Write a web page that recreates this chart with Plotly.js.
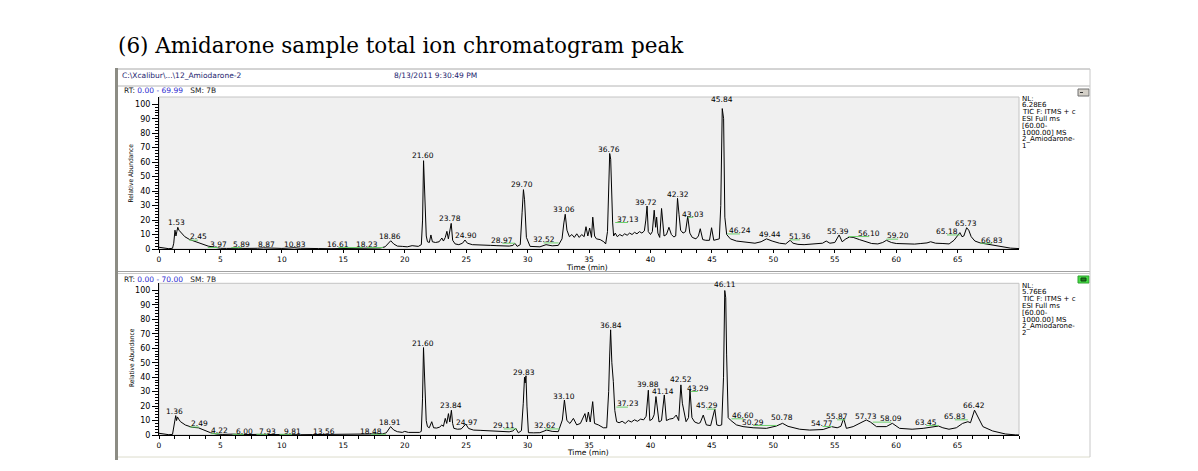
<!DOCTYPE html>
<html>
<head>
<meta charset="utf-8">
<script src="https://cdn.plot.ly/plotly-3.0.1.min.js"></script>
<style>html,body{margin:0;padding:0;background:#fff;}#chart{width:1198px;height:471px;}</style>
</head>
<body>
<div id="chart"></div>
<script>
// ---------- DATA ----------
const chartTitle = "(6) Amidarone sample total ion chromatogram peak";
const headerFile = "C:\\Xcalibur\\...\\12_Amiodarone-2";
const headerDate = "8/13/2011 9:30:49 PM";
const p1Range = "0.00 - 69.99";
const p2Range = "0.00 - 70.00";
const p1Info = ["NL:", "6.28E6", "TIC F: ITMS + c", "ESI Full ms", "[60.00-", "1000.00] MS", "2_Amiodarone-", "1"];
const p2Info = ["NL:", "5.76E6", "TIC F: ITMS + c", "ESI Full ms", "[60.00-", "1000.00] MS", "2_Amiodarone-", "2"];
const yTickVals = [0,10,20,30,40,50,60,70,80,90,100];
const xTickVals = [0,5,10,15,20,25,30,35,40,45,50,55,60,65];

const p1Time = [0,0.2,0.5,0.8,1.1,1.2,1.3,1.38,1.45,1.53,1.62,1.8,2.1,2.5,3.0,3.5,4.0,4.5,5.0,5.5,6.0,6.5,7.0,7.5,8.0,8.5,9.0,9.5,10.0,10.5,11.0,11.5,12.0,13.0,14.0,15.0,16.0,16.6,17.0,17.5,18.0,18.4,18.6,18.86,19.1,19.4,19.8,20.2,20.6,20.8,21.1,21.35,21.45,21.53,21.6,21.68,21.75,21.85,22.0,22.13,22.25,22.5,22.8,23.02,23.15,23.3,23.43,23.55,23.7,23.78,23.9,24.1,24.4,24.7,24.9,25.1,25.5,26.0,26.5,27.0,27.5,28.0,28.5,28.8,28.97,29.15,29.4,29.55,29.66,29.75,29.9,30.2,30.6,31.0,31.5,32.0,32.5,32.8,32.95,33.06,33.2,33.4,33.6,33.8,34.0,34.2,34.4,34.6,34.75,34.9,35.05,35.2,35.3,35.45,35.6,35.9,36.2,36.35,36.5,36.6,36.68,36.76,36.84,36.92,37.0,37.13,37.3,37.5,37.7,37.9,38.1,38.3,38.5,38.7,38.9,39.1,39.3,39.5,39.62,39.72,39.82,40.0,40.15,40.3,40.42,40.5,40.6,40.75,40.9,41.0,41.1,41.3,41.5,41.7,41.9,42.05,42.2,42.32,42.45,42.65,42.85,43.03,43.2,43.4,43.7,43.9,44.05,44.25,44.5,44.8,44.97,45.15,45.4,45.6,45.72,45.84,45.95,46.05,46.2,46.5,47.0,47.5,48.0,48.5,49.0,49.44,49.9,50.5,51.0,51.36,51.6,52.0,52.5,53.0,53.5,54.0,54.3,54.6,55.0,55.35,55.6,55.9,56.2,56.5,57.0,57.5,58.0,58.5,58.9,59.2,59.6,60.0,60.5,61.0,61.5,62.0,62.5,62.8,63.2,63.8,64.3,64.7,65.0,65.18,65.35,65.5,65.73,65.9,66.1,66.4,66.83,67.3,67.8,68.3,68.8,69.3,69.99];
const p1Abund = [1.2,1.0,0.4,0.2,0.5,4,13,9,12,15,13,11,8.5,6.5,4.8,3.5,2.0,1.0,0.5,0.4,0.6,0.5,0.4,0.3,0.5,0.8,0.5,0.3,0.4,0.6,0.9,0.5,0.3,0.3,0.2,0.3,0.4,0.7,0.5,0.5,0.7,1.5,3.5,5.7,3.5,2.0,1.8,1.5,2.3,2.0,1.8,3,20,61,45,30,9,5,4.5,9.7,5,4.5,5,7.6,5.5,8,12.2,7,14,17.7,6,3.5,3,4,6.2,4,3,3,2.8,2.5,2.3,2.2,2,2.5,3.9,1.8,3,25,41,34,8,1.8,1.6,1.5,3,2.2,2.5,7,18,24,13,8.5,10,8,10.5,8,10,8.5,15.4,9,14.5,8,22,9,7,6.5,5,3.5,12,40,66,62,36,18,9,11,8.5,10,9,10.5,9.5,11,10,11.5,10.5,12,11,12.5,20,29.7,12,10,12,26.8,15,22,11,8,28,20,9,10,15,10,8.3,9,35,24,13,11,12,22.5,11,8,7,9,14,6.5,6,6,14.7,6,6.5,7,30,97,90,22,10,7,5.5,5,4.2,4,5,7,5.5,4,3.5,6,4,3.2,3,3.2,3.3,4,5.5,4,4.5,9.7,5,7,8.3,8,6.5,5,3.8,3.5,4.5,6,4.5,3.8,3.5,3.6,3.4,3.8,4.2,5,4,3.8,3.5,6,9.7,11.3,8.5,9,14.7,13,8.5,5.5,4.2,3.5,2.8,2,1.2,0.6,0.3];

const p2Time = [0,0.2,0.5,0.8,1.1,1.2,1.3,1.36,1.43,1.5,1.6,1.75,2.15,2.7,3.2,3.65,4.19,4.7,5.2,6.0,6.5,7.0,7.9,8.5,9.0,9.8,10.5,11.5,12.5,13.5,14.5,15.5,16.5,17.5,18.2,18.5,18.65,18.85,19.1,19.4,19.8,20.0,20.3,20.8,21.2,21.35,21.45,21.53,21.6,21.68,21.75,21.85,22.0,22.2,22.35,22.6,22.85,23.02,23.15,23.3,23.42,23.56,23.67,23.8,23.9,24.0,24.3,24.6,24.97,25.2,25.6,26.2,26.8,27.4,28.0,28.5,28.8,29.04,29.25,29.5,29.65,29.75,29.8,29.87,29.95,30.07,30.5,31.0,31.56,32.0,32.5,32.83,33.0,33.2,33.45,33.73,34.0,34.3,34.67,34.8,34.95,35.1,35.3,35.45,35.76,36.17,36.44,36.6,36.68,36.76,36.86,36.92,36.98,37.1,37.25,37.45,37.7,37.95,38.2,38.45,38.7,38.95,39.2,39.45,39.65,39.83,39.95,40.15,40.3,40.45,40.55,40.7,40.9,41.13,41.3,41.55,41.86,42.1,42.3,42.48,42.6,42.9,43.1,43.22,43.38,43.6,43.9,44.05,44.3,44.55,44.9,45.24,45.4,45.6,45.8,45.95,46.05,46.13,46.2,46.33,46.5,46.73,47.0,47.54,48.36,49.44,50.25,50.75,51.2,52.15,52.97,54.06,54.73,55.2,55.5,55.73,55.95,56.5,57.04,57.57,57.9,58.4,59.2,59.69,60.28,61.3,62.2,62.99,63.45,63.8,64.3,64.9,65.4,65.84,66.05,66.38,66.7,67.06,67.85,68.9,69.7,70.0];
const p2Abund = [1.2,1.0,0.3,0.2,0.4,5,12,13.4,10,12.5,11,9.2,6.9,5.3,5,3.5,1.6,0.6,0.4,0.6,0.4,0.3,0.4,0.3,0.3,0.5,0.3,0.2,0.3,0.4,0.3,0.3,0.4,0.6,0.8,1.5,3.5,5.8,3.5,2.3,1.8,2.5,1.8,1.6,1.8,2.5,25,60.5,45,20,10,5.8,5,9.2,5,4.8,5.5,6.9,6,11.5,8,14.8,9,17.1,8,4.6,4,4.2,7.6,4.5,3.4,3.2,3,2.8,2.3,2.2,2.8,4.6,1.5,3,22,40,36,41,20,1.6,1.5,1.6,3.4,2.5,2.3,10.4,24.2,10,8,11.5,7,8,14.8,9,15.9,9,23.1,8,7,5,5,30,54,72.8,50,45,36.9,17,9.2,8.5,9.5,8,10,9,10.5,9.5,11,10.5,13,31,10,11,14,26.6,20,9,10,27.7,10,11,11.5,13.8,10,34.7,22,9.2,12,31.2,12,9,8,8.5,13.8,7,6.5,18,7,6.5,7,40,100,95,56,12,10.4,9,7,5.8,5,4.6,6.2,8.1,6,4,3.4,3.8,5.8,5,6,11.5,4.6,5.8,8,10.4,9,5.8,5.8,8.1,4.6,4,4.6,5.8,6.2,5,4,5,8,9.2,8.5,17.2,11.5,5.8,2.8,0.7,0.1,0];

const p1Labels = ["1.53","2.45","3.97","5.89","8.87","10.83","16.61","18.23","18.86","21.60","23.78","24.90","28.97","29.70","32.52","33.06","36.76","37.13","39.72","42.32","43.03","45.84","46.24","49.44","51.36","55.39","56.10","59.20","65.18","65.73","66.83"];
const p1LabelX = [1.45,3.18,4.81,6.73,8.77,11.07,14.6,16.92,18.82,21.45,23.7,25.0,27.95,29.58,31.3,33.0,36.65,38.17,39.61,42.24,43.48,45.79,47.28,49.72,52.15,55.27,57.8,60.15,64.13,65.65,67.8];
const p1LabelY = [18.4,8.3,3.2,3.2,3.2,3.2,3.2,3.2,8.5,64.8,20.9,9.2,6.2,44.6,6.4,27.4,68.7,20.5,31.9,37.9,24.1,103.2,12.6,10.3,8.5,11.9,10.8,9,11.9,17.7,6.2];

const p2Labels = ["1.36","2.49","4.22","6.00","7.93","9.81","13.56","18.48","18.91","21.60","23.84","24.97","29.11","29.83","32.62","33.10","36.84","37.23","39.88","41.14","42.52","43.29","45.29","46.11","46.60","50.29","50.78","54.77","55.87","57.73","58.09","63.45","65.83","66.42"];
const p2LabelX = [1.26,3.27,4.92,6.92,8.85,10.83,13.45,17.25,18.77,21.47,23.75,25.06,28.06,29.69,31.42,33.0,36.76,38.17,39.83,41.05,42.48,43.84,44.6,46.05,47.57,48.36,50.69,54.0,55.19,57.57,59.6,62.45,64.78,66.36];
const p2LabelY = [16.2,7.7,3.1,2.7,2.7,2.7,2.7,2.7,8.8,63.5,20.1,8.5,6.4,43.2,6.4,26.6,75.6,21.5,34.7,30.1,38.1,32.3,20.1,104,13.4,8.8,12.2,8.1,12.7,12.7,11.1,8.8,12.7,20.3];

// ---------- LAYOUT HELPERS ----------
const W = 1198, H = 471;
const px = x => x / W;
const py = y => 1 - y / H;
const SMALL = "DejaVu Sans";
const GREEN = "#6ccf6c";

const traces = [
  {x: p1Time, y: p1Abund, xaxis: "x", yaxis: "y", type: "scatter", mode: "lines",
   line: {color: "#000", width: 1}, hoverinfo: "skip"},
  {x: p2Time, y: p2Abund, xaxis: "x2", yaxis: "y2", type: "scatter", mode: "lines",
   line: {color: "#000", width: 1}, hoverinfo: "skip"}
];

const minorY = [];
for (let v = 2; v < 100; v += 2) if (v % 10) minorY.push(v);

function yAxis(domain, anchor) {
  return {domain: domain, range: [0, 105], anchor: anchor, showgrid: false, zeroline: false,
    showline: true, linecolor: "#000", linewidth: 1, ticks: "outside", ticklen: 6, tickwidth: 1,
    tickcolor: "#000", tickmode: "array", tickvals: yTickVals, ticktext: yTickVals.map(String),
    tickfont: {family: SMALL, size: 8, color: "#000"},
    minor: {tickmode: "array", tickvals: minorY, ticks: "outside", ticklen: 3, tickcolor: "#000"},
    fixedrange: true};
}
function xAxis(range, anchor) {
  return {domain: [px(159), px(1019)], range: range, anchor: anchor, showgrid: false, zeroline: false,
    showline: true, linecolor: "#000", linewidth: 1, ticks: "outside", ticklen: 3, tickwidth: 1,
    tickcolor: "#000", tickmode: "array", tickvals: xTickVals, ticktext: xTickVals.map(String),
    tickfont: {family: SMALL, size: 7.5, color: "#000"},
    minor: {dtick: 1.25, tick0: 0, ticks: "outside", ticklen: 3, tickcolor: "#000"},
    fixedrange: true};
}

const annotations = [];
const shapes = [];
function txt(x, y, text, opts) {
  annotations.push(Object.assign({xref: "paper", yref: "paper", x: px(x), y: py(y), text: text,
    showarrow: false, xanchor: "left", yanchor: "middle",
    font: {family: SMALL, size: 8, color: "#000"}}, opts || {}));
}
function hline(x0, x1, y, color, w) {
  shapes.push({type: "line", xref: "paper", yref: "paper", x0: px(x0), x1: px(x1), y0: py(y), y1: py(y),
    line: {color: color, width: w || 1}});
}
function vline(x, y0, y1, color, w) {
  shapes.push({type: "line", xref: "paper", yref: "paper", x0: px(x), x1: px(x), y0: py(y0), y1: py(y1),
    line: {color: color, width: w || 1}});
}
function rect(x0, y0, x1, y1, fill, line) {
  shapes.push({type: "rect", xref: "paper", yref: "paper", x0: px(x0), x1: px(x1), y0: py(y0), y1: py(y1),
    fillcolor: fill, line: {color: line || fill, width: line ? 1 : 0}, layer: "below"});
}

// window frame
rect(115, 68, 118, 460, "#8c8c84");
hline(118, 1090, 69, "#a8a8a8");
hline(118, 1090, 86, "#b4b4b4");
hline(118, 1090, 271.5, "#a0a0a0", 1);
hline(118, 1090, 273.5, "#c8c8c8", 1);
hline(118, 1090, 457, "#dcdccc");
vline(1090, 69, 457, "#c8c8c8");
// plot area outlines
rect(159, 97, 1019, 249, "rgba(0,0,0,0)", "#c4c4c4");
rect(159, 283.3, 1019, 435, "rgba(0,0,0,0)", "#c4c4c4");
// icons
rect(1078, 89, 1089, 96, "#d4d0c8", "#707070");
hline(1080, 1083, 92.5, "#303030");
rect(1078, 276, 1089, 283, "#44dd44", "#30a030");
rect(1081, 278, 1086, 281, "#208020", "#104010");

// header texts
txt(120, 75.5, headerFile, {font: {family: SMALL, size: 7.5, color: "#1c1c6e"}});
txt(392, 75.5, headerDate, {font: {family: SMALL, size: 7.5, color: "#1c1c6e"}});
txt(122, 91, "RT: <span style='color:#2a2ad0'>" + p1Range + "</span>   SM: 7B", {font: {family: SMALL, size: 7.5, color: "#202020"}});
txt(122, 279.5, "RT: <span style='color:#2a2ad0'>" + p2Range + "</span>   SM: 7B", {font: {family: SMALL, size: 7.5, color: "#202020"}});

// side info
p1Info.forEach((s, i) => txt(1020, 98.5 + i * 6.8, s, {font: {family: SMALL, size: 7, color: "#000"}}));
p2Info.forEach((s, i) => txt(1020, 285.5 + i * 6.8, s, {font: {family: SMALL, size: 7, color: "#000"}}));

// axis titles
txt(586.5, 267, "Time (min)", {xanchor: "center", font: {family: SMALL, size: 7.5, color: "#000"}});
txt(588, 452.5, "Time (min)", {xanchor: "center", font: {family: SMALL, size: 7.5, color: "#000"}});
txt(130.5, 173, "Relative Abundance", {xanchor: "center", textangle: -90,
  font: {family: "Liberation Sans Narrow, DejaVu Sans Condensed, sans-serif", size: 6.5, color: "#000"}});
txt(132, 358, "Relative Abundance", {xanchor: "center", textangle: -90,
  font: {family: "Liberation Sans Narrow, DejaVu Sans Condensed, sans-serif", size: 6.5, color: "#000"}});

// peak labels
function peakLabels(labels, lx, ly, xr, yr) {
  labels.forEach((s, i) => {
    annotations.push({xref: xr, yref: yr, x: lx[i], y: ly[i], text: s, showarrow: false,
      xanchor: "center", yanchor: "middle", font: {family: SMALL, size: 7.5, color: "#000"}});
    const pt = parseFloat(s);
    if (Math.abs(pt - lx[i]) > 0.35) {
      shapes.push({type: "line", xref: xr, yref: yr, x0: Math.min(pt, lx[i]), x1: Math.max(pt, lx[i]),
        y0: ly[i] - 2.2, y1: ly[i] - 2.2, line: {color: GREEN, width: 1}});
    }
  });
}
peakLabels(p1Labels, p1LabelX, p1LabelY, "x", "y");
peakLabels(p2Labels, p2LabelX, p2LabelY, "x2", "y2");

const layout = {
  width: W, height: H,
  margin: {l: 0, r: 0, t: 0, b: 0, pad: 0},
  paper_bgcolor: "#fff", plot_bgcolor: "#f0f0f0",
  showlegend: false,
  title: {text: chartTitle, xref: "container", yref: "container", x: px(118), xanchor: "left",
    y: py(45), yanchor: "middle", font: {family: "DejaVu Serif", size: 21.5, color: "#000"}},
  xaxis: xAxis([0, 69.99], "y"),
  yaxis: yAxis([py(249), py(97)], "x"),
  xaxis2: xAxis([0, 70], "y2"),
  yaxis2: yAxis([py(435), py(283.3)], "x2"),
  annotations: annotations,
  shapes: shapes
};

Plotly.newPlot("chart", traces, layout, {staticPlot: true, displayModeBar: false});
</script>
</body>
</html>
